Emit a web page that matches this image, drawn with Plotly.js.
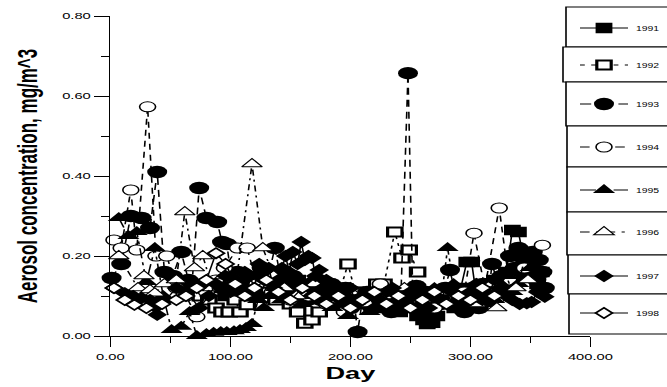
<!DOCTYPE html>
<html><head><meta charset="utf-8">
<script src="https://cdn.plot.ly/plotly-3.0.1.min.js"></script>
<style>
html,body{margin:0;padding:0;background:#fff;overflow:hidden;}
#wrap{width:667px;height:387px;overflow:hidden;position:relative;}
#chart{width:470px;height:387px;transform:scaleX(1.6);transform-origin:0 0;}
</style></head><body><div id="wrap"><div id="chart"></div></div>
<script>
// ---------- data ----------
const years = ['1991','1992','1993','1994','1995','1996','1997','1998'];

const day1991 = [62,67,72,78,84,90,96,101,106,111,116,121,126,131,136,141,146,151,156,161,166,171,176,181,186,191,196,201,206,211,216,221,226,231,236,241,246,251,256,261,264,268,272,277,282,287,292,297,301,305,310,315,320,325,330,335,340,344,348,352,356,359];
const val1991 = [0.13,0.12,0.13,0.11,0.12,0.13,0.10,0.12,0.14,0.11,0.13,0.12,0.15,0.13,0.12,0.14,0.11,0.10,0.14,0.13,0.12,0.10,0.11,0.13,0.09,0.12,0.10,0.09,0.11,0.08,0.10,0.09,0.07,0.10,0.08,0.06,0.09,0.07,0.05,0.04,0.03,0.033,0.05,0.08,0.10,0.07,0.12,0.185,0.185,0.10,0.13,0.09,0.14,0.12,0.16,0.265,0.26,0.20,0.15,0.18,0.13,0.16];

const day1992 = [75,82,88,93,99,104,108,114,120,126,132,138,144,150,156,162,168,174,180,186,192,198,204,210,216,222,228,237,243,249,256,262];
const val1992 = [0.10,0.09,0.07,0.06,0.06,0.09,0.06,0.078,0.10,0.13,0.11,0.09,0.12,0.08,0.06,0.032,0.04,0.06,0.10,0.08,0.12,0.18,0.11,0.09,0.10,0.13,0.13,0.26,0.195,0.215,0.16,0.10];

const day1993 = [1,9,17,26,33,39,45,52,59,65,68,74,80,89,93,97,102,106,110,114,118,122,126,131,137,141,145,149,152,156,160,164,168,172,176,180,184,188,192,196,200,203,206,210,214,218,222,226,230,234,238,242,248,252,255,259,263,267,271,275,279,283,287,291,295,299,303,307,311,315,318,322,326,330,333,337,340,343,346,349,352,355,357,360,362];
const val1993 = [0.145,0.18,0.30,0.295,0.27,0.41,0.16,0.15,0.21,0.14,0.13,0.37,0.295,0.285,0.235,0.23,0.12,0.16,0.15,0.11,0.13,0.10,0.17,0.14,0.22,0.16,0.14,0.12,0.15,0.10,0.13,0.09,0.12,0.14,0.09,0.11,0.13,0.08,0.10,0.12,0.07,0.09,0.01,0.09,0.11,0.07,0.10,0.12,0.08,0.06,0.10,0.09,0.657,0.10,0.125,0.08,0.11,0.07,0.10,0.08,0.12,0.165,0.11,0.07,0.06,0.09,0.12,0.07,0.13,0.10,0.18,0.14,0.15,0.12,0.20,0.17,0.22,0.15,0.17,0.20,0.21,0.14,0.19,0.16,0.12];

const day1994 = [3,9,17,22,31,38,47,55,63,72,80,88,95,106,114,122,135,150,165,180,195,210,225,240,255,270,285,295,303,312,324,332,345,360];
const val1994 = [0.24,0.22,0.365,0.215,0.573,0.20,0.20,0.12,0.10,0.048,0.11,0.14,0.17,0.22,0.22,0.13,0.11,0.09,0.10,0.08,0.06,0.09,0.13,0.10,0.09,0.07,0.09,0.11,0.257,0.12,0.32,0.14,0.17,0.227];

const day1995 = [7,15,22,30,37,44,51,59,66,72,80,86,92,97,103,108,113,118,123,128,133,138,143,148,154,160,166,172,178,185,191,198,204,210,216,222,228,235,241,248,254,260,265,270,276,281,286,290,295,300,305,310,315,320,325,330,335,340,345,350,354,358];
const val1995 = [0.295,0.25,0.26,0.135,0.22,0.10,0.015,0.023,0.06,0.0,0.005,0.008,0.01,0.01,0.012,0.015,0.02,0.03,0.09,0.07,0.10,0.12,0.09,0.10,0.13,0.08,0.10,0.11,0.09,0.07,0.10,0.05,0.08,0.08,0.06,0.10,0.09,0.07,0.11,0.09,0.08,0.06,0.09,0.12,0.10,0.22,0.13,0.10,0.07,0.08,0.11,0.12,0.08,0.09,0.13,0.15,0.11,0.13,0.19,0.17,0.14,0.12];

const day1996 = [7,23,28,33,37,45,55,62,70,77,85,95,105,118,127,136,145,155,170,185,200,215,230,245,260,275,290,305,318,322,338,348];
const val1996 = [0.20,0.12,0.15,0.115,0.107,0.13,0.14,0.31,0.17,0.20,0.12,0.15,0.14,0.43,0.22,0.15,0.12,0.10,0.13,0.09,0.11,0.08,0.10,0.12,0.09,0.11,0.10,0.08,0.13,0.07,0.12,0.14];

const day1997 = [3,12,19,26,33,37,39,46,55,64,74,82,88,92,96,100,104,108,112,116,120,124,128,132,136,140,143,146,149,152,156,159,162,165,168,171,174,177,180,184,188,192,196,200,205,210,215,220,225,230,235,240,245,250,255,260,265,270,275,280,285,290,295,300,305,310,315,320,325,330,335,341,347,351,356,362];
const val1997 = [0.12,0.107,0.10,0.095,0.09,0.073,0.053,0.09,0.12,0.11,0.07,0.10,0.13,0.12,0.15,0.11,0.14,0.13,0.16,0.15,0.12,0.18,0.14,0.17,0.12,0.14,0.17,0.20,0.16,0.21,0.18,0.235,0.19,0.20,0.195,0.15,0.165,0.12,0.14,0.10,0.12,0.09,0.10,0.12,0.08,0.10,0.11,0.07,0.09,0.11,0.12,0.09,0.08,0.11,0.10,0.08,0.07,0.10,0.09,0.12,0.11,0.09,0.08,0.11,0.13,0.09,0.10,0.14,0.12,0.10,0.09,0.08,0.082,0.085,0.11,0.098];

const day1998 = [3,12,20,30,43,55,63,72,80,88,96,104,112,120,130,140,150,160,170,180,190,200,210,220,230,240,250,260,270,280,290,300,310,320];
const val1998 = [0.12,0.09,0.078,0.07,0.08,0.09,0.10,0.12,0.14,0.207,0.18,0.13,0.10,0.12,0.14,0.11,0.09,0.12,0.10,0.08,0.10,0.07,0.09,0.11,0.08,0.10,0.07,0.09,0.11,0.08,0.10,0.09,0.12,0.10];

const xTickVals = [0,100,200,300,400];
const yTickVals = [0,0.2,0.4,0.6,0.8];

// ---------- styles ----------
const days = [day1991,day1992,day1993,day1994,day1995,day1996,day1997,day1998];
const vals = [val1991,val1992,val1993,val1994,val1995,val1996,val1997,val1998];
const styles = [
  {symbol:'square', color:'black', lw:0, size:10.5, dash:'solid'},
  {symbol:'square', color:'white', lw:2, size:9, dash:'3px,4px'},
  {symbol:'circle', color:'black', lw:0, size:12.5, dash:'7px,5px'},
  {symbol:'circle', color:'white', lw:1, size:10, dash:'6px,5px'},
  {symbol:'triangle-up', color:'black', lw:0, size:12, dash:'10px,4px,3px,4px'},
  {symbol:'triangle-up', color:'white', lw:1, size:11, dash:'6px,4px,2px,4px'},
  {symbol:'diamond', color:'black', lw:0, size:9.5, dash:'solid'},
  {symbol:'diamond', color:'white', lw:1.5, size:8, dash:'solid'}
];
const legendCentersPx = [28,65,104,147,190,232,276,313];
const boxLeftPx = [566,563,566,567,567,567,568,569];
const boxEdgesPx = [7,47,82,126,167,212,255,294,334];

// the figure is drawn 1.6x narrower and stretched back by CSS (like the reference)
const S = 1.6, W = 470, H = 387, L = 69, PW = 300, T = 16, PH = 320;
const px2paperX = p => (p / S - L) / PW;
const px2paperY = p => (T + PH - p) / PH;
const FONT = 'Liberation Sans, Arial, Helvetica, sans-serif';

const traces = years.map((y, i) => ({
  type: 'scatter', mode: 'lines+markers', name: y,
  x: days[i], y: vals[i],
  legend: i === 0 ? 'legend' : 'legend' + (i + 1),
  cliponaxis: false,
  line: {color: 'black', width: 1, dash: styles[i].dash},
  marker: {symbol: styles[i].symbol, color: styles[i].color, size: styles[i].size,
           line: {color: 'black', width: styles[i].lw}}
}));

const layout = {
  width: W, height: H,
  margin: {l: L, r: W - L - PW, t: T, b: H - T - PH, autoexpand: false},
  paper_bgcolor: 'white', plot_bgcolor: 'white',
  font: {family: FONT, color: 'black'},
  showlegend: true,
  xaxis: {
    range: [0, 400], tickvals: xTickVals, tickformat: '.2f',
    ticks: 'outside', ticklen: 10, tickwidth: 1, tickcolor: 'black', ticklabelstandoff: 2,
    showline: true, linecolor: 'black', linewidth: 1, showgrid: false, zeroline: false,
    minor: {tickvals: [50,150,250,350], ticks: 'outside', ticklen: 6, tickcolor: 'black', showgrid: false},
    tickfont: {size: 9.2, family: FONT},
    title: {text: 'Day', font: {size: 17, family: FONT, weight: 700}, standoff: 6},
    fixedrange: true
  },
  yaxis: {
    range: [0, 0.8], tickvals: yTickVals, tickformat: '.2f',
    ticks: 'outside', ticklen: 9.4, tickwidth: 1, tickcolor: 'black', ticklabelstandoff: 2.5,
    showline: true, linecolor: 'black', linewidth: 1, showgrid: false, zeroline: false,
    minor: {tickvals: [0.1,0.3,0.5,0.7], ticks: 'outside', ticklen: 5, tickcolor: 'black', showgrid: false},
    tickfont: {size: 9.2, family: FONT},
    title: {text: 'Aerosol concentration, mg/m^3', font: {size: 17, family: FONT, weight: 700}, standoff: 10},
    fixedrange: true
  },
  shapes: boxLeftPx.map((bl, i) => ({
    type: 'rect', xref: 'paper', yref: 'paper', layer: 'above',
    x0: px2paperX(bl), x1: px2paperX(700),
    y0: px2paperY(boxEdgesPx[i + 1]), y1: px2paperY(boxEdgesPx[i]),
    line: {color: 'black', width: 1}, fillcolor: 'white'
  }))
};
years.forEach((y, i) => {
  const key = i === 0 ? 'legend' : 'legend' + (i + 1);
  layout[key] = {
    xref: 'container', yref: 'container',
    x: 572 / S / W, xanchor: 'left',
    y: 1 - legendCentersPx[i] / H, yanchor: 'middle',
    bgcolor: 'rgba(0,0,0,0)', borderwidth: 0,
    font: {size: 6.5, family: FONT, color: 'black'},
    itemsizing: 'trace', tracegroupgap: 0
  };
});

Plotly.newPlot('chart', traces, layout, {displayModeBar: false, staticPlot: true});
</script></body></html>
